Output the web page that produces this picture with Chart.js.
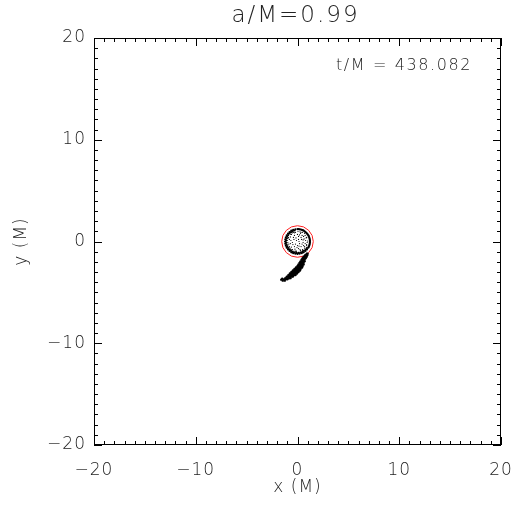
<!DOCTYPE html>
<html>
<head>
<meta charset="utf-8">
<script src="https://cdn.jsdelivr.net/npm/chart.js@4.4.0/dist/chart.umd.min.js"></script>
<style>
  html, body { margin: 0; padding: 0; background: #fff; }
</style>
</head>
<body>
<canvas id="chart" width="521" height="510"></canvas>
<script>
// axis range and ticks (M)
const axisMin = -20;
const axisMax = 20;
const majorStep = 10;
const minorStep = 1;

const titleText = 'a/M=0.99';
const timeText = 't/M = 438.082';
const xTitle = 'x (M)';
const yTitle = 'y (M)';

// red circle radius (M), centred on the origin
const circleRadius = 1.55;

// dense rim of the disk
const diskEdge = [
  [1.22, 0.00], [1.20, 0.21], [1.15, 0.42], [1.06, 0.61], [0.93, 0.78], [0.78, 0.93],
  [0.61, 1.06], [0.42, 1.15], [0.21, 1.20], [0.00, 1.22], [-0.21, 1.20], [-0.42, 1.15],
  [-0.61, 1.06], [-0.78, 0.93], [-0.93, 0.78], [-1.06, 0.61], [-1.15, 0.42], [-1.20, 0.21],
  [-1.22, 0.00], [-1.20, -0.21], [-1.15, -0.42], [-1.06, -0.61], [-0.93, -0.78], [-0.78, -0.93],
  [-0.61, -1.06], [-0.42, -1.15], [-0.21, -1.20], [0.00, -1.22], [0.21, -1.20], [0.42, -1.15],
  [0.61, -1.06], [0.78, -0.93], [0.93, -0.78], [1.06, -0.61], [1.15, -0.42], [1.20, -0.21],
  [1.22, 0.11], [1.18, 0.32], [1.11, 0.52], [1.00, 0.70], [0.86, 0.86], [0.70, 1.00],
  [0.52, 1.11], [0.32, 1.18], [0.11, 1.22], [1.11, -0.52], [1.18, -0.32], [1.22, -0.11],
  [-0.29, 1.08], [-0.47, 1.02], [-0.64, 0.92], [-0.79, 0.79], [-0.92, 0.64], [-1.02, 0.47],
  [-1.08, 0.29], [-1.12, 0.10], [-1.12, -0.10], [-1.08, -0.29], [-1.02, -0.47], [-0.92, -0.64],
  [-0.79, -0.79], [-0.64, -0.92], [-0.47, -1.02], [-0.29, -1.08], [-0.10, -1.12], [0.10, -1.12],
  [0.29, -1.08], [0.47, -1.02], [0.64, -0.92], [0.79, -0.79], [0.92, -0.64]
];

// sparse particles inside the disk
const diskInner = [
  [0.3, 0.8], [-0.2, 0.9], [-0.6, 0.7], [0.6, 0.5], [0.1, 0.5], [-0.4, 0.4], [-0.8, 0.2],
  [0.8, 0.1], [0.4, 0.2], [-0.1, 0.1], [-0.5, -0.1], [0.2, -0.2], [0.6, -0.4], [-0.3, -0.5],
  [-0.8, -0.5], [0.1, -0.7], [-0.5, -0.8], [0.5, -0.8], [0.9, -0.3], [-0.9, 0.6], [0.0, -0.4],
  [0.7, 0.8], [-0.3, 0.6], [0.35, -0.5], [-0.7, -0.2], [-0.95, -0.1], [0.9, 0.4], [-0.1, -0.95],
  [0.25, 0.95], [-0.4, 0.9], [-0.95, 0.3], [-0.75, -0.65], [-0.55, -0.8], [0.7, -0.65],
  [0.45, 0.6], [-0.2, -0.25], [0.1, 0.2], [0.55, -0.1],
  [0.0, 0.7], [-0.7, 0.45], [0.5, 0.9], [-0.35, 0.2], [0.75, -0.2], [-0.6, -0.55], [0.3, -0.9],
  [-0.25, -0.75], [0.65, 0.25], [-1.0, 0.1], [1.0, 0.05], [0.15, -0.45], [-0.15, 0.35],
  [0.45, -0.25], [-0.85, -0.25], [0.75, 0.6], [-0.5, 0.85], [0.05, 1.0], [-0.95, -0.35],
  [0.7, -0.5], [-0.35, -0.95], [0.2, 0.65], [-0.65, 0.7], [0.9, -0.4], [-0.05, -0.6],
  [0.55, 0.15], [-0.45, -0.3], [0.85, 0.35], [-0.9, 0.4], [0.35, 0.4], [-0.2, -0.95],
  [0.5, -0.85], [-0.65, 0.1], [0.15, 0.0], [-0.3, 0.85], [0.95, -0.1], [-0.85, -0.55],
  [0.35, 0.9], [-0.7, -0.75], [0.25, -0.8]
];

// the stream falling away below the disk
const tail = [
  [0.9, -1.2], [1.0, -1.2],
  [0.75, -1.35], [0.85, -1.35], [0.95, -1.35],
  [0.6, -1.5], [0.7, -1.5], [0.8, -1.5], [0.9, -1.5],
  [0.5, -1.65], [0.6, -1.65], [0.7, -1.65], [0.8, -1.65],
  [0.4, -1.8], [0.5, -1.8], [0.6, -1.8], [0.7, -1.8],
  [0.3, -1.95], [0.4, -1.95], [0.5, -1.95], [0.6, -1.95], [0.7, -1.95],
  [0.2, -2.1], [0.3, -2.1], [0.4, -2.1], [0.5, -2.1], [0.6, -2.1],
  [0.1, -2.25], [0.2, -2.25], [0.3, -2.25], [0.4, -2.25], [0.5, -2.25], [0.6, -2.25],
  [0.0, -2.4], [0.1, -2.4], [0.2, -2.4], [0.3, -2.4], [0.4, -2.4], [0.5, -2.4],
  [-0.15, -2.55], [-0.05, -2.55], [0.05, -2.55], [0.15, -2.55], [0.25, -2.55], [0.35, -2.55],
  [0.45, -2.55],
  [-0.3, -2.7], [-0.2, -2.7], [-0.1, -2.7], [0.0, -2.7], [0.1, -2.7], [0.2, -2.7], [0.3, -2.7],
  [-0.45, -2.85], [-0.35, -2.85], [-0.25, -2.85], [-0.15, -2.85], [-0.05, -2.85], [0.05, -2.85],
  [0.15, -2.85], [0.25, -2.85],
  [-0.6, -3.0], [-0.5, -3.0], [-0.4, -3.0], [-0.3, -3.0], [-0.2, -3.0], [-0.1, -3.0], [0.0, -3.0],
  [0.1, -3.0],
  [-0.75, -3.15], [-0.65, -3.15], [-0.55, -3.15], [-0.45, -3.15], [-0.35, -3.15], [-0.25, -3.15],
  [-0.15, -3.15], [-0.05, -3.15],
  [-0.9, -3.3], [-0.8, -3.3], [-0.7, -3.3], [-0.6, -3.3], [-0.5, -3.3], [-0.4, -3.3], [-0.3, -3.3],
  [-0.2, -3.3],
  [-1.05, -3.45], [-0.95, -3.45], [-0.85, -3.45], [-0.75, -3.45], [-0.65, -3.45], [-0.55, -3.45],
  [-0.45, -3.45],
  [-1.2, -3.6], [-1.05, -3.6], [-0.9, -3.6], [-0.8, -3.6], [-0.7, -3.6],
  [-1.35, -3.72], [-1.15, -3.72], [-1.0, -3.72],
  [-1.5, -3.65], [-1.45, -3.85], [-1.25, -3.85], [-1.6, -3.75]
];

const fontFamily = '"DejaVu Sans", "Liberation Sans", sans-serif';
const textColor = '#222';

function toPoints(list) {
  return list.map(p => ({ x: p[0], y: p[1] }));
}

function minusSign(v) {
  return String(v).replace('-', '\u2212');
}

// wider letter spacing, like the plotting package's stroke font
const spacingPlugin = {
  id: 'spacing',
  beforeDraw(chart) { chart.ctx.letterSpacing = '1px'; }
};

// red circle, drawn under the particles
const circlePlugin = {
  id: 'circle',
  beforeDatasetsDraw(chart) {
    const ctx = chart.ctx;
    const xs = chart.scales.x, ys = chart.scales.y;
    const cx = xs.getPixelForValue(0);
    const cy = ys.getPixelForValue(0);
    const r = xs.getPixelForValue(circleRadius) - cx;
    ctx.save();
    ctx.strokeStyle = '#ff2020';
    ctx.lineWidth = 1;
    ctx.beginPath();
    ctx.arc(cx, cy, r, 0, Math.PI * 2);
    ctx.stroke();
    ctx.restore();
  }
};

// frame, inward ticks on all four sides, title and time stamp
const framePlugin = {
  id: 'frame',
  afterDraw(chart) {
    const ctx = chart.ctx;
    const a = chart.chartArea;
    const xs = chart.scales.x, ys = chart.scales.y;
    ctx.save();
    ctx.strokeStyle = '#000';
    ctx.lineWidth = 1;
    ctx.strokeRect(a.left + 0.5, a.top + 0.5, a.right - a.left - 1, a.bottom - a.top - 1);

    ctx.beginPath();
    for (let v = axisMin; v <= axisMax; v += minorStep) {
      const len = v % majorStep === 0 ? 8 : 4;
      const px = Math.round(xs.getPixelForValue(v)) + 0.5;
      ctx.moveTo(px, a.bottom);
      ctx.lineTo(px, a.bottom - len);
      ctx.moveTo(px, a.top);
      ctx.lineTo(px, a.top + len);
      const py = Math.round(ys.getPixelForValue(v)) + 0.5;
      ctx.moveTo(a.left, py);
      ctx.lineTo(a.left + len, py);
      ctx.moveTo(a.right, py);
      ctx.lineTo(a.right - len, py);
    }
    ctx.stroke();

    ctx.fillStyle = textColor;
    ctx.textAlign = 'center';
    ctx.textBaseline = 'middle';
    ctx.letterSpacing = '2px';
    ctx.font = '200 23px ' + fontFamily;
    ctx.fillText(titleText, (a.left + a.right) / 2 - 2, 16);

    ctx.textAlign = 'right';
    ctx.letterSpacing = '1.6px';
    ctx.font = '200 16px ' + fontFamily;
    ctx.fillText(timeText, 472, 66);
    ctx.restore();
  }
};

const tickFont = { family: fontFamily, size: 17, weight: 200 };

new Chart(document.getElementById('chart'), {
  type: 'scatter',
  data: {
    datasets: [
      { label: 'disk inner', data: toPoints(diskInner), pointRadius: 0.6 },
      { label: 'disk edge', data: toPoints(diskEdge), pointRadius: 1.1 },
      { label: 'tail', data: toPoints(tail), pointRadius: 1.2 }
    ]
  },
  options: {
    responsive: false,
    animation: false,
    layout: { padding: { top: 38, right: 20, left: 0, bottom: 0 } },
    elements: {
      point: { backgroundColor: '#000', borderWidth: 0, hoverRadius: 1.2 }
    },
    plugins: {
      legend: { display: false },
      tooltip: { enabled: false }
    },
    scales: {
      x: {
        min: axisMin,
        max: axisMax,
        afterFit(scale) { scale.height = 65; scale.paddingLeft = 0; scale.paddingRight = 0; },
        grid: { drawOnChartArea: false, drawTicks: false },
        border: { display: false },
        ticks: {
          stepSize: majorStep,
          color: textColor,
          font: tickFont,
          padding: 15,
          maxRotation: 0,
          callback: v => minusSign(v)
        },
        title: { display: true, text: xTitle, color: textColor, font: tickFont, padding: { top: 0, bottom: 12 } }
      },
      y: {
        min: axisMin,
        max: axisMax,
        afterFit(scale) { scale.width = 94; scale.paddingTop = 0; scale.paddingBottom = 0; },
        grid: { drawOnChartArea: false, drawTicks: false },
        border: { display: false },
        ticks: {
          stepSize: majorStep,
          color: textColor,
          font: tickFont,
          padding: 8,
          callback: v => minusSign(v)
        },
        title: { display: true, text: yTitle, color: textColor, font: tickFont, padding: { top: 11, bottom: 0 } }
      }
    }
  },
  plugins: [spacingPlugin, circlePlugin, framePlugin]
});
</script>
</body>
</html>
